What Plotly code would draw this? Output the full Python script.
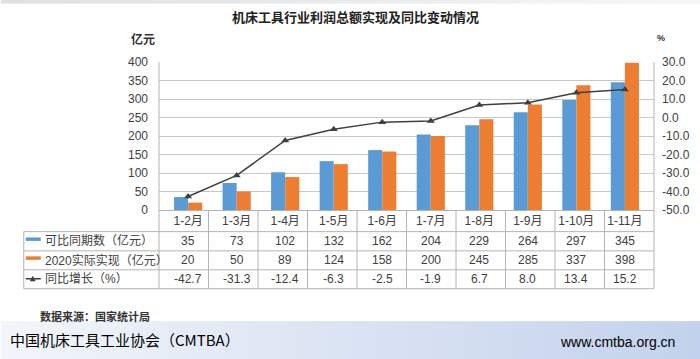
import plotly.graph_objects as go

# ---- data ----
categories = ["1-2月", "1-3月", "1-4月", "1-5月", "1-6月", "1-7月", "1-8月", "1-9月", "1-10月", "1-11月"]
comparable = [35, 73, 102, 132, 162, 204, 229, 264, 297, 345]
actual2020 = [20, 50, 89, 124, 158, 200, 245, 285, 337, 398]
growth = [-42.7, -31.3, -12.4, -6.3, -2.5, -1.9, 6.7, 8.0, 13.4, 15.2]
series_names = ["可比同期数（亿元）", "2020实际实现（亿元）", "同比增长（%）"]
left_ticks = [0, 50, 100, 150, 200, 250, 300, 350, 400]
right_ticks = [-50, -40, -30, -20, -10, 0, 10, 20, 30]
right_tick_text = ["%.1f" % v for v in right_ticks]
title_text = "机床工具行业利润总额实现及同比变动情况"
source_text = "数据来源：国家统计局"
footer_left = "中国机床工具工业协会（CMTBA）"
footer_right = "www.cmtba.org.cn"

W, H = 700, 359
X0, X1, Y0, Y1 = 158.5, 654.5, 61.5, 210.0
PW, PH = X1 - X0, Y1 - Y0

def px(x):
    return (x - X0) / PW
def py(y):
    return (Y1 - y) / PH

BLUE = "#5B9BD5"
ORANGE = "#ED7D31"
LINE = "#404040"
TXT = "#404040"
GRID = "#c8c8c8"
TLINE = "#b4b4b4"
FONT = "Liberation Sans, Noto Sans CJK SC, sans-serif"
CJK = "Noto Sans CJK SC, sans-serif"

fig = go.Figure()
fig.add_bar(x=categories, y=comparable, name=series_names[0], marker_color=BLUE,
            marker_line_width=0)
fig.add_bar(x=categories, y=actual2020, name=series_names[1], marker_color=ORANGE,
            marker_line_width=0)
fig.add_scatter(x=categories, y=growth, name=series_names[2], yaxis="y2", mode="lines+markers",
                line=dict(color=LINE, width=1.5),
                marker=dict(symbol="triangle-up", size=7, color=LINE))

shapes = []
annotations = []

# footer gradient band
n = 70
c0 = (242, 245, 250)
c1 = (195, 210, 236)
for k in range(n):
    t = k / (n - 1)
    c = tuple(int(round(c0[j] + (c1[j] - c0[j]) * t)) for j in range(3))
    shapes.append(dict(type="rect", xref="paper", yref="paper",
                       x0=px(k * W / n), x1=px((k + 1) * W / n + 0.6),
                       y0=py(360), y1=py(321.5), fillcolor="rgb(%d,%d,%d)" % c,
                       line_width=0, layer="below"))
# top thin band
for k in range(n):
    t = k / (n - 1)
    g = int(round(226 + (248 - 226) * t))
    shapes.append(dict(type="rect", xref="paper", yref="paper",
                       x0=px(k * W / n), x1=px((k + 1) * W / n + 0.6),
                       y0=py(3), y1=py(-1), fillcolor="rgb(%d,%d,%d)" % (g - 4, g - 2, g),
                       line_width=0, layer="below"))

# data table lines
row_lines = [231.7, 251.0, 270.0, 289.0]
TL = 23.0
for yy in row_lines:
    shapes.append(dict(type="line", xref="paper", yref="paper", x0=px(TL), x1=px(X1),
                       y0=py(yy), y1=py(yy), line=dict(color=TLINE, width=1)))
shapes.append(dict(type="line", xref="paper", yref="paper", x0=px(TL), x1=px(TL),
                   y0=py(row_lines[0]), y1=py(row_lines[-1]), line=dict(color=TLINE, width=1)))
cw = PW / len(categories)
for k in range(len(categories) + 1):
    xx = X0 + k * cw
    top = Y0 if k in (0, len(categories)) else Y1
    shapes.append(dict(type="line", xref="paper", yref="paper", x0=px(xx), x1=px(xx),
                       y0=py(top), y1=py(row_lines[-1]), line=dict(color=TLINE, width=1)))

# table values
row_centers = [241.0, 260.5, 279.5]
rows = [[str(v) for v in comparable], [str(v) for v in actual2020], ["%.1f" % v for v in growth]]
for r, vals in enumerate(rows):
    for i, v in enumerate(vals):
        annotations.append(dict(x=categories[i], xref="x", y=py(row_centers[r]), yref="paper",
                                text=v, showarrow=False, font=dict(family=FONT, size=12, color=TXT),
                                xanchor="center", yanchor="middle"))
    annotations.append(dict(x=px(42), xref="paper", y=py(row_centers[r]), yref="paper",
                            text=series_names[r], showarrow=False,
                            font=dict(family=FONT, size=12, color=TXT),
                            xanchor="left", yanchor="middle"))

# legend keys in table
shapes.append(dict(type="rect", xref="paper", yref="paper", x0=px(25), x1=px(40),
                   y0=py(241), y1=py(237.5), fillcolor=BLUE, line_width=0))
shapes.append(dict(type="rect", xref="paper", yref="paper", x0=px(25), x1=px(40),
                   y0=py(260), y1=py(256.5), fillcolor=ORANGE, line_width=0))
shapes.append(dict(type="line", xref="paper", yref="paper", x0=px(25), x1=px(40),
                   y0=py(279), y1=py(279), line=dict(color=LINE, width=1.5)))
shapes.append(dict(type="path", xref="paper", yref="paper",
                   path="M %f %f L %f %f L %f %f Z" % (px(29), py(281.5), px(35), py(281.5), px(32), py(276)),
                   fillcolor=LINE, line_width=0))

# titles / labels
annotations += [
    dict(x=px(355), y=py(16), xref="paper", yref="paper", text="<b>" + title_text + "</b>",
         showarrow=False, font=dict(family=CJK, size=13, color="#222222"), xanchor="center", yanchor="middle"),
    dict(x=px(142), y=py(38), xref="paper", yref="paper", text="<b>亿元</b>",
         showarrow=False, font=dict(family=CJK, size=12, color="#333333"), xanchor="center", yanchor="middle"),
    dict(x=px(662), y=py(37), xref="paper", yref="paper", text="<b>%</b>",
         showarrow=False, font=dict(family=FONT, size=9, color="#333333"), xanchor="center", yanchor="middle"),
    dict(x=px(37), y=py(316.5), xref="paper", yref="paper", text="<b>" + source_text + "</b>",
         showarrow=False, font=dict(family=CJK, size=11, color="#333333"), xanchor="left", yanchor="middle"),
    dict(x=px(7), y=py(340), xref="paper", yref="paper", text=footer_left,
         showarrow=False, font=dict(family=CJK, size=15, color="#000000"), xanchor="left", yanchor="middle"),
    dict(x=px(678), y=py(342.5), xref="paper", yref="paper", text=footer_right,
         showarrow=False, font=dict(family=FONT, size=14, color="#000000"), xanchor="right", yanchor="middle"),
]

fig.update_layout(
    width=W, height=H, autosize=False,
    margin=dict(l=X0, r=W - X1, t=Y0, b=H - Y1, pad=0, autoexpand=False),
    paper_bgcolor="white", plot_bgcolor="white",
    showlegend=False, barmode="group", bargap=0.42, bargroupgap=0,
    font=dict(family=FONT, size=12, color=TXT),
    xaxis=dict(type="category", showgrid=False, ticks="", automargin=False,
               showline=True, linecolor=TLINE, linewidth=1,
               tickfont=dict(family=FONT, size=12, color=TXT), fixedrange=True),
    yaxis=dict(range=[0, 400], tickmode="array", automargin=False,
               tickvals=left_ticks, showgrid=True, gridcolor=GRID, gridwidth=1,
               zeroline=False, ticks="", ticklabelstandoff=10,
               tickfont=dict(family=FONT, size=12, color=TXT)),
    yaxis2=dict(overlaying="y", side="right", range=[-50, 30], tickmode="array", automargin=False,
                tickvals=right_ticks, ticktext=right_tick_text, showgrid=False,
                zeroline=False, ticks="", ticklabelstandoff=7,
                tickfont=dict(family=FONT, size=12, color=TXT)),
    shapes=shapes, annotations=annotations,
)

fig.write_html("out.html", config={"displayModeBar": False},
               post_script="document.body.style.margin='0';document.body.style.overflow='hidden';")
